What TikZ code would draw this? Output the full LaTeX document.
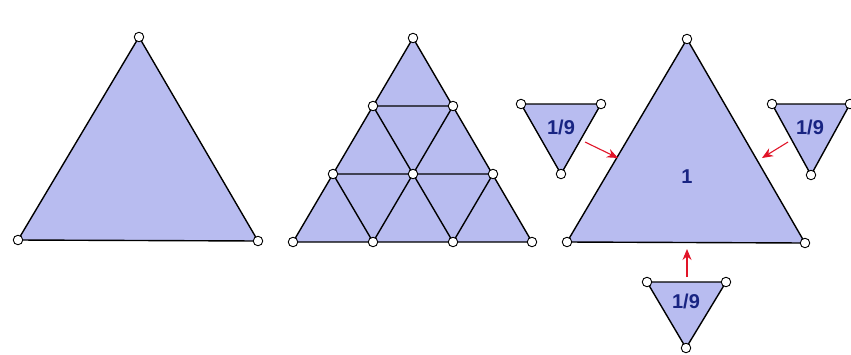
\documentclass[tikz,border=0pt]{standalone}
\usepackage{fontspec}
\setmainfont{Liberation Sans}
\usetikzlibrary{arrows.meta}
\definecolor{trifill}{RGB}{184,188,240}
\definecolor{labelblue}{RGB}{24,36,130}
\definecolor{arrowred}{RGB}{225,20,40}
\tikzset{
  tri/.style={draw=black, line width=1.4pt, fill=trifill, line join=round},
  inner/.style={draw=black, line width=1.4pt},
  vtx/.style={circle, draw=black, fill=white, line width=0.9pt, minimum size=9.5pt, inner sep=0pt},
  lbl/.style={font=\bfseries\fontsize{20}{20}\selectfont, text=labelblue},
  redarrow/.style={draw=arrowred, line width=1.1pt, -{Stealth[length=11pt,width=9pt]}}
}
\begin{document}
\begin{tikzpicture}[x=1pt,y=-1pt]
\useasboundingbox (0,0) rectangle (851,354);
\fill[white] (0,0) rectangle (851,354);
% ---------- left triangle ----------
\coordinate (A1) at (139,37);
\coordinate (A2) at (18,240);
\coordinate (A3) at (258,241);
\draw[tri] (A1) -- (A2) -- (A3) -- cycle;
\foreach \p in {A1,A2,A3} \node[vtx] (v\p) at (\p) {};
% ---------- middle subdivided triangle ----------
\coordinate (M0) at (413,38);
\coordinate (M1) at (373,106);
\coordinate (M2) at (453,106);
\coordinate (M3) at (333,174);
\coordinate (M4) at (413,174);
\coordinate (M5) at (493,174);
\coordinate (M6) at (293,242);
\coordinate (M7) at (373,242);
\coordinate (M8) at (453,242);
\coordinate (M9) at (532,242);
\draw[tri] (M0) -- (M6) -- (M9) -- cycle;
\draw[inner] (M1) -- (M2) (M3) -- (M5)
  (M2) -- (M7) (M5) -- (M8)
  (M1) -- (M8) (M3) -- (M7);
\foreach \p in {M0,M1,M2,M3,M4,M5,M6,M7,M8,M9} \node[vtx] (v\p) at (\p) {};
% ---------- right big triangle ----------
\coordinate (B1) at (687,39);
\coordinate (B2) at (567,242);
\coordinate (B3) at (805,243);
\draw[tri] (B1) -- (B2) -- (B3) -- cycle;
\node[lbl] (one) at (687,177) {1};
% ---------- small triangle left ----------
\coordinate (L1) at (521,104);
\coordinate (L2) at (601,104);
\coordinate (L3) at (561,174);
\draw[tri] (L1) -- (L2) -- (L3) -- cycle;
\node[lbl] (lL) at (561,127) {1/9};
% ---------- small triangle right ----------
\coordinate (R1) at (772,104);
\coordinate (R2) at (850,104);
\coordinate (R3) at (811,175);
\draw[tri] (R1) -- (R2) -- (R3) -- cycle;
\node[lbl] (lR) at (810,127) {1/9};
% ---------- small triangle bottom ----------
\coordinate (D1) at (647,282);
\coordinate (D2) at (726,282);
\coordinate (D3) at (686,348);
\draw[tri] (D1) -- (D2) -- (D3) -- cycle;
\node[lbl] (lD) at (686,301) {1/9};
% ---------- vertex circles ----------
\foreach \p in {B1,B2,B3,L1,L2,L3,R1,R2,R3,D1,D2,D3} \node[vtx] (v\p) at (\p) {};
% ---------- arrows ----------
\coordinate (aLs) at (585,142);
\coordinate (aLe) at (618,158);
\coordinate (aRs) at (788,142);
\coordinate (aRe) at (762,158);
\coordinate (aDs) at (687,277);
\coordinate (aDe) at (687,249);
\draw[redarrow] (aLs) -- (aLe);
\draw[redarrow] (aRs) -- (aRe);
\draw[redarrow] (aDs) -- (aDe);
\end{tikzpicture}
\end{document}
